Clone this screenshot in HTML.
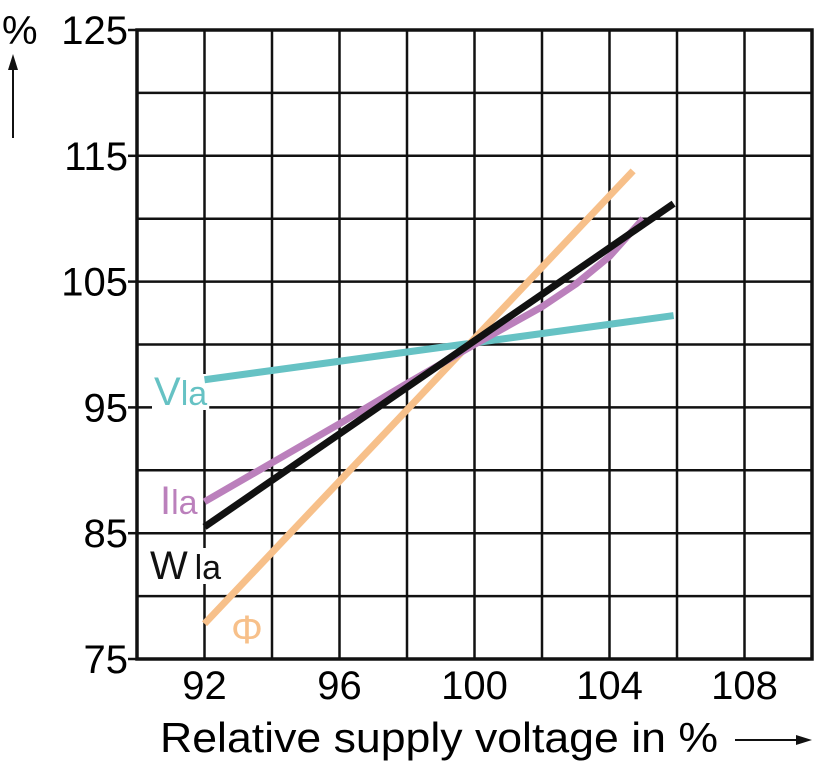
<!DOCTYPE html>
<html><head><meta charset="utf-8"><style>
body{margin:0;background:#fff;width:821px;height:768px;overflow:hidden}
svg text{font-family:"Liberation Sans",sans-serif}
</style></head><body>
<svg width="821" height="768">
<g id="grid"></g>
<g id="labels"></g>
<g id="series"></g>
<g id="labtxt"></g>
<rect x="137" y="30" width="675" height="629" fill="none" stroke="#111" stroke-width="3.5"/>
<g id="yt"></g>
<g id="xt"></g>
<text x="2" y="44" font-size="40">%</text>
<g><line x1="13" y1="138" x2="13" y2="66" stroke="#111" stroke-width="2"/><polygon points="13,54 8,70 18,70" fill="#111"/></g>
<text x="160" y="752" font-size="42" textLength="558" lengthAdjust="spacingAndGlyphs">Relative supply voltage in %</text>
<g><line x1="735" y1="740" x2="800" y2="740" stroke="#111" stroke-width="2"/><polygon points="812,740 796,735 796,745" fill="#111"/></g>
</svg>
<script>
const xTicks=[92,96,100,104,108];
const yTicks=[75,85,95,105,115,125];
const vlaX=[92,105.9], vlaY=[97.2,102.3];
const ilaX=[92,94,96,98,100,102,103,104,105], ilaY=[87.5,90.6,93.7,96.9,100,103,104.8,107,110];
const wlaX=[92,105.9], wlaY=[85.5,111.2];
const phiX=[92,104.7], phiY=[77.8,113.8];
const NS="http://www.w3.org/2000/svg";
const sx=v=>137+(v-90)*33.75, sy=v=>659-(v-75)*12.58;
function mk(t,a,p){const e=document.createElementNS(NS,t);for(const k in a)e.setAttribute(k,a[k]);p.appendChild(e);return e;}
const g=document.getElementById('grid');
for(let v=92;v<110;v+=2){const l=mk('line',{x1:sx(v),x2:sx(v),y1:30,y2:659,stroke:'#111','stroke-width':2.5},g);

}
for(let v=80;v<125;v+=5){const l=mk('line',{x1:137,x2:812,y1:sy(v),y2:sy(v),stroke:'#111','stroke-width':2.5},g);

}
const yt=document.getElementById('yt');
yTicks.forEach(v=>{const t=mk('text',{x:128,y:sy(v)+14,'font-size':40,'text-anchor':'end'},yt);t.textContent=v;


const k=mk('line',{x1:128,x2:137,y1:sy(v),y2:sy(v),stroke:'#111','stroke-width':2.5},yt);

});
const xt=document.getElementById('xt');
xTicks.forEach(v=>{const t=mk('text',{x:sx(v),y:699,'font-size':40,'text-anchor':'middle'},xt);t.textContent=v;

});
const s=document.getElementById('series');
function line(xs,ys,c,w,n){const d=xs.map((x,i)=>(i?'L':'M')+sx(x)+','+sy(ys[i])).join(' ');
const p=mk('path',{d:d,fill:'none',stroke:c,'stroke-width':w,'stroke-linejoin':'round'},s);

}
line(vlaX,vlaY,'#66c2c4',7,'line-vla');
line(phiX,phiY,'#f7c08a',7,'line-phi');
line(ilaX,ilaY,'#bb80bc',7,'line-ila');
line(wlaX,wlaY,'#111',7,'line-wla');
const lb=document.getElementById('labels'), lt=document.getElementById('labtxt');
function lab(x,y,txt,sub,c,n){const t=mk('text',{x:x,y:y,'font-size':40,fill:c},lt);t.textContent=txt;
const u=mk('tspan',{'font-size':34},t);u.textContent=sub;


const b=t.getBBox();
const r=mk('rect',{x:b.x-2,y:b.y+4,width:b.width+4,height:b.height-8,fill:'#fff'},lb);

}
lab(154,405,'V','la','#66c2c4','label-vla');
lab(160,514,'I','la','#bb80bc','label-ila');
lab(150,579,'W','\u2009la','#111','label-wla');
const ph=mk('text',{x:231,y:643,'font-size':40,fill:'#f7c08a'},lt);ph.textContent='Φ';


</script>
</body></html>
